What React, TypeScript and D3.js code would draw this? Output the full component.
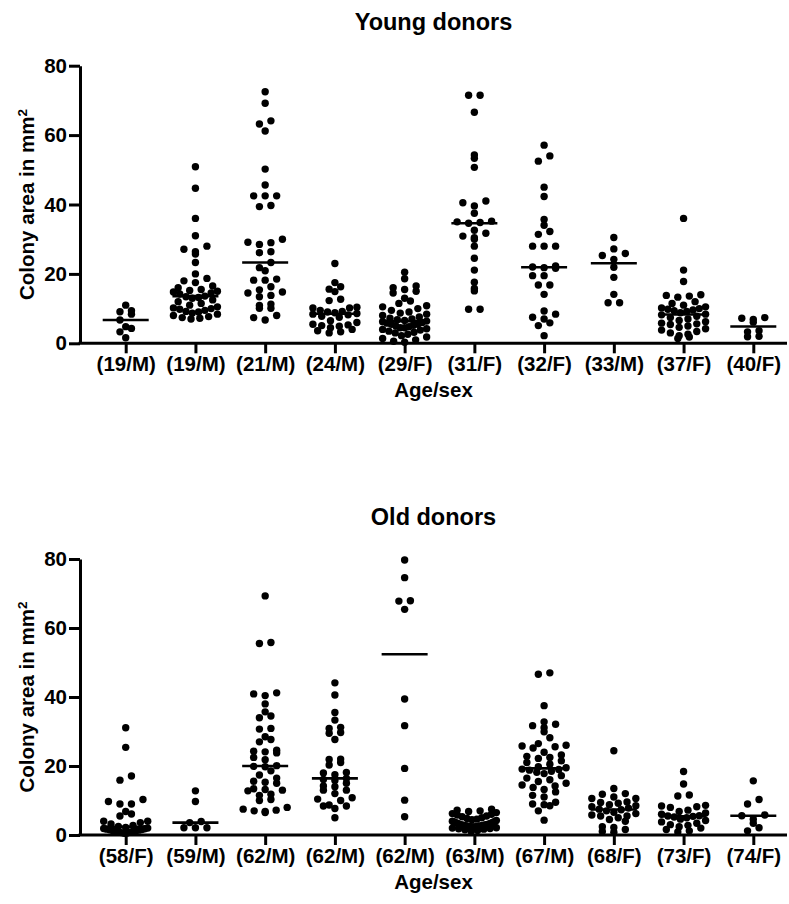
import { useEffect, useRef } from 'react';
import * as d3 from 'd3';

const youngLabels = ['(19/M)', '(19/M)', '(21/M)', '(24/M)', '(29/F)', '(31/F)', '(32/F)', '(33/M)', '(37/F)', '(40/F)'];
const oldLabels = ['(58/F)', '(59/M)', '(62/M)', '(62/M)', '(62/M)', '(63/M)', '(67/M)', '(68/F)', '(73/F)', '(74/F)'];
const yTicks = [0, 20, 40, 60, 80];

// young donors, one array per donor (colony areas, mm2)
const y19Ma = [11, 9.4, 8.4, 9.1, 6.7, 4.3, 4.8, 3.3, 1.6];
const y19Mb = [50.9, 44.7, 36, 31, 28, 27.1, 26.4, 25.7, 23.3, 20, 18.7, 18, 17.5, 16.5, 16, 15.5, 15.2, 15, 14.8, 14.5, 14.2, 13.6, 13.4, 13.2, 13, 12.5, 12, 11.5, 11, 10.5, 10.2, 10, 9.8, 9.5, 9.2, 9, 8.7, 8.4, 8.0, 7.7, 7.4, 7.2, 7.0];
const y21M = [72.5, 69.2, 64.1, 63.2, 61.2, 50.2, 45.6, 42.5, 42.5, 42.5, 39.7, 39.4, 30, 29.1, 29, 28.5, 26.4, 26.1, 23.3, 21.8, 20.9, 18.5, 18.2, 18.2, 16.3, 15.4, 14.8, 14.5, 13.8, 13.4, 11.3, 10.9, 10.1, 10.1, 8.0, 7.4, 6.7];
const y24M = [23, 17.5, 16.3, 15.6, 14.9, 12.7, 12.3, 10.4, 10.2, 10.2, 9.5, 9.2, 9, 8.8, 8.6, 8.4, 8.2, 7.8, 7.5, 6.5, 6, 5.5, 5.3, 5.1, 4.9, 4.5, 4, 3.6, 3.3, 3.0];
const y29F = [20.5, 18.6, 16.5, 16, 15.5, 15, 14.5, 13, 12.2, 11.5, 10.8, 10.5, 10, 9.5, 9, 8.7, 8.4, 8, 7.6, 7.2, 7, 6.8, 6.6, 6.4, 6.2, 6, 5.8, 5.5, 5.5, 5.2, 5, 4.8, 4.5, 4.5, 4.2, 4, 3.8, 3.5, 3.2, 3, 2.6, 2.2, 1.8, 1.4, 1, 0.6, 0.3];
const y31F = [71.5, 71.5, 66.6, 54.3, 53.3, 50.7, 41.0, 40.5, 39.6, 37.5, 35.2, 35, 34.8, 34.6, 32.6, 31.7, 30.9, 30.4, 30, 28, 24.5, 21.1, 17.6, 15.8, 15.1, 9.8, 9.8];
const y32F = [57.1, 54.0, 52.5, 45.0, 42.3, 35.7, 34.0, 32.2, 31.4, 28, 28, 28, 22.3, 22, 21.8, 21.6, 19.5, 19.5, 16.8, 16.8, 14.1, 9.3, 8.4, 7.5, 7.0, 5.9, 5.1, 2.2];
const y33M = [30.5, 27.2, 25.9, 25.3, 24.2, 21.9, 19.0, 14.1, 11.7, 11.7];
const y37F = [36, 21.1, 17.8, 14, 13.8, 13.6, 13.3, 12, 11.5, 11, 10.5, 10.2, 10, 9.8, 9.6, 9.4, 9.2, 8.8, 8.4, 8.2, 7.8, 7.4, 7, 6.6, 6.2, 5.8, 5.6, 5.4, 5, 4.6, 4.2, 3.8, 3.4, 3, 2.6, 2.2, 1.8, 1.4];
const y40F = [7.4, 6.9, 6.1, 7.2, 3.3, 3.6, 1.9, 2.0];

// old donors
const o58F = [31.1, 25.4, 17.1, 15.9, 10.3, 9.7, 9.0, 9.0, 6.8, 6.1, 5.5, 4.0, 4.0, 3.6, 3.2, 2.8, 2.5, 2.2, 2.0, 1.9, 1.8, 1.7, 1.6, 1.5, 1.4, 1.3, 1.2, 1.1, 1.0, 0.9, 0.8, 0.7, 0.6, 0.5];
const o59M = [12.8, 9.7, 3.9, 3.6, 2.1, 2.1, 2.1];
const o62Ma = [69.3, 55.8, 55.5, 41.2, 40.9, 40.4, 38, 35.7, 34.5, 34, 30.9, 30.7, 28.5, 27.7, 27, 24.6, 24.3, 24.1, 23.8, 22.5, 21.8, 20.1, 19.9, 19.8, 18.6, 17.4, 16.5, 15.6, 15.3, 15, 13.4, 13.2, 13, 12.8, 11.8, 11.5, 10.3, 10, 8, 7.5, 7.2, 7, 6.8, 6.5];
const o62Mb = [44.1, 40.6, 35.5, 33.3, 31.2, 30.9, 29.7, 29.5, 27.7, 22, 21.9, 21, 20.3, 18.1, 18, 17.5, 16.4, 16.1, 15.8, 15, 14.2, 14, 13, 13, 12, 10.8, 10.4, 10, 8.7, 8.4, 8.4, 7.7, 5.0];
const o62Mc = [79.7, 74.6, 67.9, 67.8, 65.4, 39.4, 31.7, 19.3, 10.1, 5.3];
const o63M = [7.5, 7.2, 7.0, 6.8, 6.5, 6.2, 6.0, 5.8, 5.5, 5.3, 5.0, 4.8, 4.6, 4.4, 4.2, 4.0, 3.9, 3.8, 3.7, 3.6, 3.5, 3.4, 3.3, 3.2, 3.1, 3.0, 3.0, 2.9, 2.9, 2.8, 2.8, 2.7, 2.7, 2.6, 2.6, 2.5, 2.5, 2.4, 2.4, 2.3, 2.3, 2.2, 2.1, 2.0, 1.9, 1.8, 1.7, 1.5, 1.3, 1.0];
const o67M = [47, 46.6, 37.5, 32.8, 32.1, 31.7, 31.1, 29.9, 28.2, 26.5, 26, 25.8, 25.6, 25.2, 24, 23.2, 22.8, 22.5, 22.2, 21.5, 21, 20.5, 19.8, 19.5, 19.1, 19, 18.8, 18.5, 18.2, 17.8, 17.2, 16.5, 16, 15.5, 15, 14.5, 14.2, 13.8, 13.2, 12.5, 11.5, 11, 9.5, 9, 8.8, 8.5, 7, 4.3];
const o68F = [24.4, 13.5, 12, 11.8, 11, 10.6, 10.6, 9.6, 9.4, 9.2, 8.8, 8.5, 8.2, 7.8, 7.5, 7.3, 7, 6.6, 6.2, 5.8, 5.5, 5.5, 5, 4.5, 4, 2.4, 2.2, 1.6, 1.0, 0.8];
const o73F = [18.4, 14.8, 11.6, 11.3, 8.6, 8.4, 8.2, 8, 7.2, 6.8, 6.4, 6, 5.6, 5.5, 5.4, 5.2, 5, 4.6, 4.2, 3.8, 3.4, 3, 2.8, 2.4, 2, 1.6, 1.2, 0.9];
const o74F = [15.7, 10.3, 9.0, 5.8, 5.6, 4.6, 3.4, 2.1, 1.2];

const youngGroups = [y19Ma, y19Mb, y21M, y24M, y29F, y31F, y32F, y33M, y37F, y40F];
const oldGroups = [o58F, o59M, o62Ma, o62Mb, o62Mc, o63M, o67M, o68F, o73F, o74F];

const W = 789;
const H = 904;
const FONT = "'Liberation Sans', Arial, sans-serif";
const R = 3.7;
const GAP = 11.5;
const MAXW = 44;
const BIN = 7.5;

// GraphPad-like column scatter: rows of values, lowest in the middle
function swarm(values, y, cx) {
  const pts = values.map(v => ({ v, py: y(v) })).sort((a, b) => a.v - b.v);
  const rows = d3.group(pts, p => Math.floor((y(0) - p.py) / BIN));
  const out = [];
  for (const [, row] of rows) {
    const n = row.length;
    let s = GAP;
    if ((n - 1) * s > MAXW) s = MAXW / (n - 1);
    const slots = d3.range(n).map(j => (j - (n - 1) / 2) * s)
      .sort((a, b) => Math.abs(a) - Math.abs(b) || a - b);
    row.forEach((p, i) => out.push({ x: cx + slots[i], y: p.py }));
  }
  return out;
}

function drawPanel(svg, { title, labels, groups, top, bottom, titleY }) {
  const left = 80;
  const right = 787;

  const x = d3.scalePoint()
    .domain(d3.range(labels.length))
    .range([125.7, 753.3]);

  const y = d3.scaleLinear()
    .domain([0, 80])
    .range([bottom, top]);

  const g = svg.append('g');

  g.append('text')
    .attr('x', (left + right) / 2)
    .attr('y', titleY)
    .attr('text-anchor', 'middle')
    .style('font-family', FONT)
    .style('font-weight', 'bold')
    .style('font-size', '23.5px')
    .text(title);

  // points
  groups.forEach((vals, i) => {
    const pts = swarm(vals, y, x(i));
    g.append('g')
      .selectAll('circle')
      .data(pts)
      .join('circle')
      .attr('cx', d => d.x)
      .attr('cy', d => d.y)
      .attr('r', R)
      .attr('fill', '#000');

    const med = d3.median(vals);
    g.append('line')
      .attr('x1', x(i) - 23)
      .attr('x2', x(i) + 23)
      .attr('y1', y(med))
      .attr('y2', y(med))
      .attr('stroke', '#000')
      .attr('stroke-width', 2.6);
  });

  // y axis
  const yAxis = g.append('g')
    .attr('transform', `translate(${left},0)`)
    .call(d3.axisLeft(y).tickValues(yTicks).tickSize(11).tickSizeOuter(0).tickPadding(2));
  yAxis.select('.domain').attr('stroke-width', 3).attr('stroke', '#000');
  yAxis.selectAll('.tick line').attr('stroke-width', 3).attr('stroke', '#000');
  yAxis.selectAll('.tick text')
    .attr('fill', '#000')
    .style('font-family', FONT)
    .style('font-weight', 'bold')
    .style('font-size', '20.5px');

  // x axis
  const xAxis = g.append('g')
    .attr('transform', `translate(0,${bottom})`)
    .call(d3.axisBottom(x).tickFormat(i => labels[i]).tickSize(10).tickSizeOuter(0).tickPadding(3));
  xAxis.select('.domain').remove();
  xAxis.selectAll('.tick line').attr('stroke-width', 3).attr('stroke', '#000');
  xAxis.selectAll('.tick text')
    .attr('fill', '#000')
    .style('font-family', FONT)
    .style('font-weight', 'bold')
    .style('font-size', '20.5px');
  xAxis.append('line')
    .attr('x1', left - 1.5)
    .attr('x2', right)
    .attr('y1', 0)
    .attr('y2', 0)
    .attr('stroke', '#000')
    .attr('stroke-width', 3);

  g.append('text')
    .attr('x', (left + right) / 2)
    .attr('y', bottom + 54)
    .attr('text-anchor', 'middle')
    .style('font-family', FONT)
    .style('font-weight', 'bold')
    .style('font-size', '20.5px')
    .text('Age/sex');

  const yl = g.append('text')
    .attr('transform', `translate(34,${(top + bottom) / 2}) rotate(-90)`)
    .attr('text-anchor', 'middle')
    .style('font-family', FONT)
    .style('font-weight', 'bold')
    .style('font-size', '20.5px');
  yl.append('tspan').text('Colony area in mm');
  yl.append('tspan').attr('dy', '-0.55em').style('font-size', '13.5px').text('2');
}

export default function App() {
  const svgRef = useRef(null);

  useEffect(() => {
    if (!svgRef.current) return;
    const svg = d3.select(svgRef.current);
    svg.selectAll('*').remove();

    drawPanel(svg, {
      title: 'Young donors',
      labels: youngLabels,
      groups: youngGroups,
      top: 65.7,
      bottom: 343.3,
      titleY: 30,
    });
    drawPanel(svg, {
      title: 'Old donors',
      labels: oldLabels,
      groups: oldGroups,
      top: 559,
      bottom: 835,
      titleY: 525,
    });
  }, []);

  return (
    <svg
      ref={svgRef}
      width={W}
      height={H}
      style={{ position: 'absolute', left: 0, top: 0, background: '#fff' }}
    />
  );
}
